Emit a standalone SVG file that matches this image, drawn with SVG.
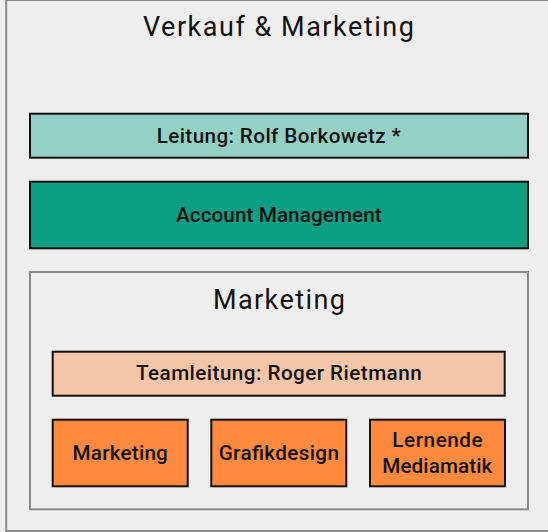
<svg xmlns="http://www.w3.org/2000/svg" width="548" height="532" viewBox="0 0 548 532">
<style>
.bg{fill:#eeeeee}
.frame{fill:#eeeeee;stroke:#8a8a8a;stroke-width:2}
.box{stroke:#111111;stroke-width:2}
.lead{fill:#94d0c4}
.acc{fill:#0c9f84}
.team{fill:#f4c6a8}
.unit{fill:#fd8a3e}
text{font-family:Roboto,"Liberation Sans",Arial,sans-serif;fill:#111111;text-anchor:middle}
.title{font-size:27px;font-weight:400}
.label{font-size:20.7px;font-weight:500}
</style>
<rect class="bg" x="0" y="0" width="548" height="532"/>
<g id="verkauf-marketing">
<rect class="frame" x="6.2" y="0" width="560" height="531"/>
<text class="title" x="278.4" y="36" textLength="271">Verkauf &amp; Marketing</text>
</g>
<g id="leitung">
<rect class="box lead" x="30" y="113.7" width="498" height="44"/>
<text class="label" x="278.7" y="142.7" textLength="244">Leitung: Rolf Borkowetz *</text>
</g>
<g id="account-management">
<rect class="box acc" x="30" y="181.7" width="498" height="66.6"/>
<text class="label" x="278.8" y="221.7" textLength="205.7">Account Management</text>
</g>
<g id="marketing-group">
<rect class="frame" x="30" y="272" width="498" height="237.3"/>
<text class="title" x="278.9" y="308.7" textLength="132">Marketing</text>
</g>
<g id="teamleitung">
<rect class="box team" x="52.7" y="351.7" width="452" height="44"/>
<text class="label" x="278.8" y="380.3" textLength="285.7">Teamleitung: Roger Rietmann</text>
</g>
<g id="marketing">
<rect class="box unit" x="52.7" y="419.7" width="135" height="66.6"/>
<text class="label" x="120.2" y="460.3" textLength="95.3">Marketing</text>
</g>
<g id="grafikdesign">
<rect class="box unit" x="211.3" y="419.7" width="135" height="66.6"/>
<text class="label" x="278.8" y="460.3" textLength="120.3">Grafikdesign</text>
</g>
<g id="lernende-mediamatik">
<rect class="box unit" x="370" y="419.7" width="135" height="66.6"/>
<text class="label" x="437.5" y="447" textLength="90.3">Lernende</text>
<text class="label" x="437.3" y="472.7" textLength="110">Mediamatik</text>
</g>
<g id="connectors"/>
</svg>
